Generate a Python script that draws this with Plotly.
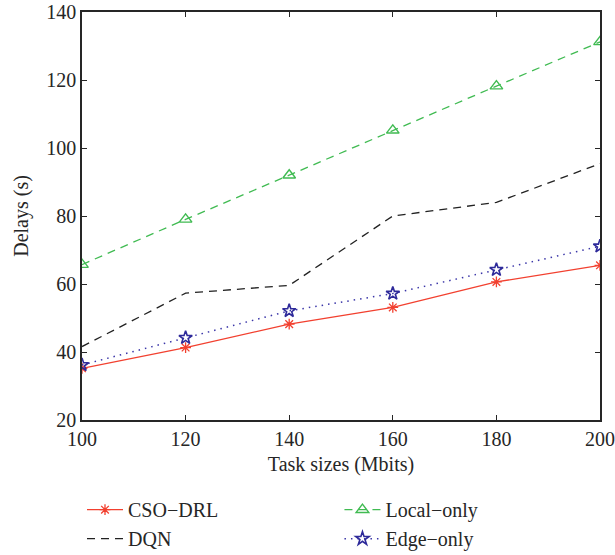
import plotly.graph_objects as go

task_sizes = [100, 120, 140, 160, 180, 200]
cso_drl = [35.2, 41.3, 48.2, 53.1, 60.6, 65.5]
dqn = [41.6, 57.3, 59.6, 80.0, 84.0, 95.4]
local_only = [65.7, 79.0, 92.0, 105.2, 118.2, 131.2]
edge_only = [36.2, 44.2, 52.1, 57.2, 64.2, 71.1]

x_ticks = [100, 120, 140, 160, 180, 200]
y_ticks = [20, 40, 60, 80, 100, 120, 140]

FONT = "Liberation Serif"
FS = 20
fig = go.Figure()

fig.add_trace(go.Scatter(x=task_sizes, y=cso_drl, name="CSO\u2212DRL", mode="lines+markers",
                         legend="legend",
                         line=dict(color="#f2402f", width=1.3),
                         marker=dict(symbol="asterisk-open", size=9, color="#f2402f",
                                     line=dict(color="#f2402f", width=1.3))))
fig.add_trace(go.Scatter(x=task_sizes, y=dqn, name="DQN", mode="lines",
                         legend="legend",
                         line=dict(color="#222222", width=1.3, dash="8px,6px")))
fig.add_trace(go.Scatter(x=task_sizes, y=local_only, name="Local\u2212only", mode="lines+markers",
                         legend="legend2",
                         line=dict(color="#40bb52", width=1.3, dash="8px,6px"),
                         marker=dict(symbol="triangle-up-open", size=11, color="#40bb52",
                                     line=dict(color="#40bb52", width=1.4))))
fig.add_trace(go.Scatter(x=task_sizes, y=edge_only, name="Edge\u2212only", mode="lines+markers",
                         legend="legend2",
                         line=dict(color="#3a35a8", width=1.5, dash="1.5px,5px"),
                         marker=dict(symbol="star-open", size=10, color="#2e2a9a",
                                     line=dict(color="#2e2a9a", width=1.6))))

axis_common = dict(showgrid=False, zeroline=False, showline=True, linecolor="#262626",
                   linewidth=1.6, mirror="ticks", ticks="inside", ticklen=5, tickwidth=1.2,
                   tickcolor="#262626", tickfont=dict(family=FONT, size=FS, color="#262626"),
                   automargin=False)

fig.update_xaxes(range=[100, 200], tickvals=x_ticks,
                 title=dict(text="Task sizes (Mbits)", font=dict(family=FONT, size=FS, color="#262626"),
                            standoff=8),
                 **axis_common)
fig.update_yaxes(range=[20, 140], tickvals=y_ticks,
                 title=dict(text="Delays (s)", font=dict(family=FONT, size=FS, color="#262626"),
                            standoff=12),
                 **axis_common)

legend_common = dict(orientation="v", xanchor="left", yanchor="top", y=-0.172,
                     traceorder="normal", itemwidth=36, tracegroupgap=0,
                     bgcolor="rgba(0,0,0,0)",
                     font=dict(family=FONT, size=FS, color="#262626"))

fig.update_layout(
    width=615, height=555,
    margin=dict(l=82, r=15, t=12, b=135, autoexpand=False),
    plot_bgcolor="white", paper_bgcolor="white",
    font=dict(family=FONT, size=FS, color="#262626"),
    showlegend=True,
    legend=dict(x=0.0, **legend_common),
    legend2=dict(x=0.497, **legend_common),
)

fig.write_html("out.html")
